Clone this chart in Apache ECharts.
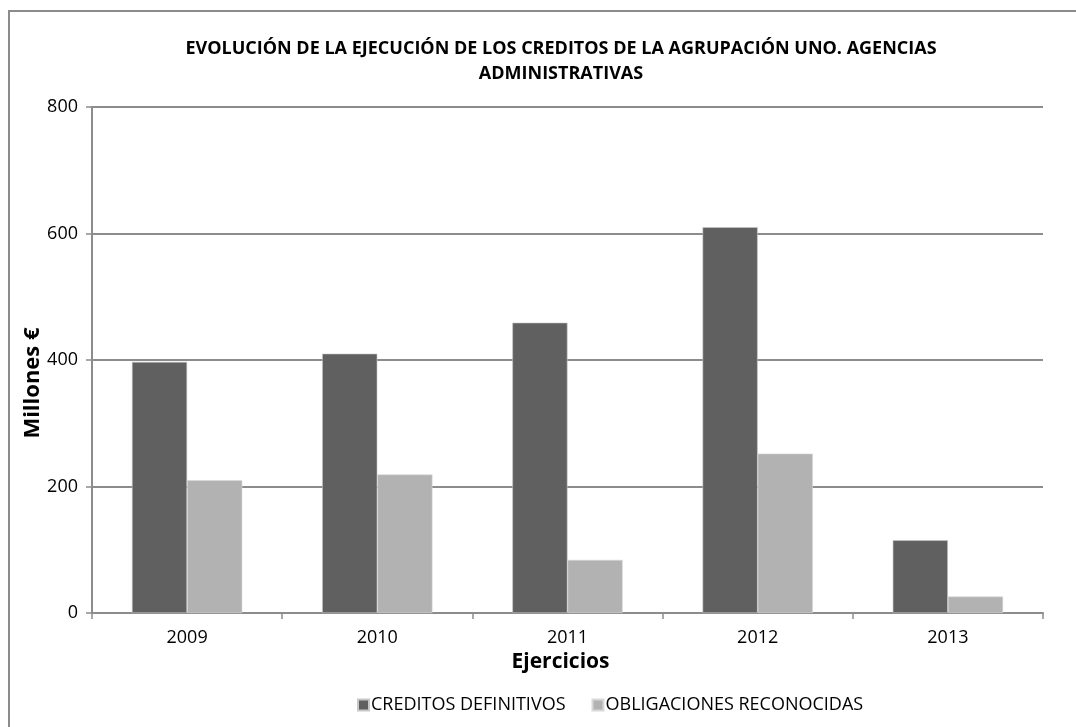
<!DOCTYPE html>
<html>
<head>
<meta charset="utf-8">
<script src="https://cdn.jsdelivr.net/npm/echarts@6/dist/echarts.min.js"></script>
<style>
  html, body { margin: 0; padding: 0; background: #fff; }
  #chart { width: 1076px; height: 727px; }
</style>
</head>
<body>
<div id="chart"></div>
<script>
// Ejercicios presupuestarios
const years = ['2009', '2010', '2011', '2012', '2013'];
// Millones de euros
const creditosDefinitivos = [397, 410, 459, 610, 115];
const obligacionesReconocidas = [210, 219, 84, 252, 26];
const yTicks = [0, 200, 400, 600, 800];

const FONT = '"Open Sans", "Noto Sans", sans-serif';
const GRID_COLOR = '#8c8c8c';

const chart = echarts.init(document.getElementById('chart'), null, { renderer: 'canvas' });

chart.setOption({
  backgroundColor: '#fff',
  animation: false,
  title: {
    text: 'EVOLUCIÓN DE LA EJECUCIÓN DE LOS CREDITOS DE LA AGRUPACIÓN UNO. AGENCIAS\nADMINISTRATIVAS',
    left: 556,
    top: 31,
    textAlign: 'center',
    textStyle: {
      fontFamily: FONT,
      fontSize: 18,
      fontWeight: 'bold',
      color: '#000',
      lineHeight: 25
    }
  },
  graphic: [{
    type: 'rect',
    shape: { x: 9, y: 11, width: 1200, height: 900 },
    style: { fill: 'none', stroke: GRID_COLOR, lineWidth: 2 },
    silent: true
  }],
  legend: {
    bottom: 8,
    left: 352,
    itemWidth: 11,
    itemHeight: 11,
    itemGap: 26,
    icon: 'rect',
    textStyle: { fontFamily: FONT, fontSize: 18, color: '#000', padding: [0, 0, 0, -3] },
    data: ['CREDITOS DEFINITIVOS', 'OBLIGACIONES RECONOCIDAS']
  },
  grid: { left: 92, right: 33, top: 107, bottom: 114 },
  xAxis: {
    type: 'category',
    data: years,
    name: 'Ejercicios',
    nameLocation: 'middle',
    nameGap: 39,
    nameMoveOverlap: false,
    nameTextStyle: { fontFamily: FONT, fontSize: 21, fontWeight: 'bold', color: '#000', padding: [0, 14, 0, 0] },
    axisLine: { lineStyle: { color: GRID_COLOR, width: 2 } },
    axisTick: { show: true, alignWithLabel: false, length: 6, lineStyle: { color: GRID_COLOR, width: 1.5 } },
    axisLabel: { fontFamily: FONT, fontSize: 18, color: '#000', margin: 16 }
  },
  yAxis: {
    type: 'value',
    min: yTicks[0],
    max: yTicks[yTicks.length - 1],
    interval: yTicks[1] - yTicks[0],
    name: 'Millones €',
    nameLocation: 'middle',
    nameGap: 48,
    nameMoveOverlap: false,
    nameRotate: 90,
    nameTextStyle: { fontFamily: FONT, fontSize: 22, fontWeight: 'bold', color: '#000', padding: [0, 46, 0, 0] },
    axisLine: { show: true, lineStyle: { color: GRID_COLOR, width: 2 } },
    axisTick: { show: true, length: 6, lineStyle: { color: GRID_COLOR, width: 1.5 } },
    axisLabel: { fontFamily: FONT, fontSize: 18, color: '#000', margin: 14 },
    splitLine: { show: true, lineStyle: { color: GRID_COLOR, width: 2 } }
  },
  series: [
    {
      name: 'CREDITOS DEFINITIVOS',
      type: 'bar',
      data: creditosDefinitivos,
      barGap: '0%',
      barCategoryGap: '42%',
      itemStyle: { color: '#606060', borderColor: '#c8c8c8', borderWidth: 0.6 }
    },
    {
      name: 'OBLIGACIONES RECONOCIDAS',
      type: 'bar',
      data: obligacionesReconocidas,
      barGap: '0%',
      barCategoryGap: '42%',
      itemStyle: { color: '#b2b2b2', borderColor: '#d8d8d8', borderWidth: 0.6 }
    }
  ]
});
</script>
</body>
</html>
